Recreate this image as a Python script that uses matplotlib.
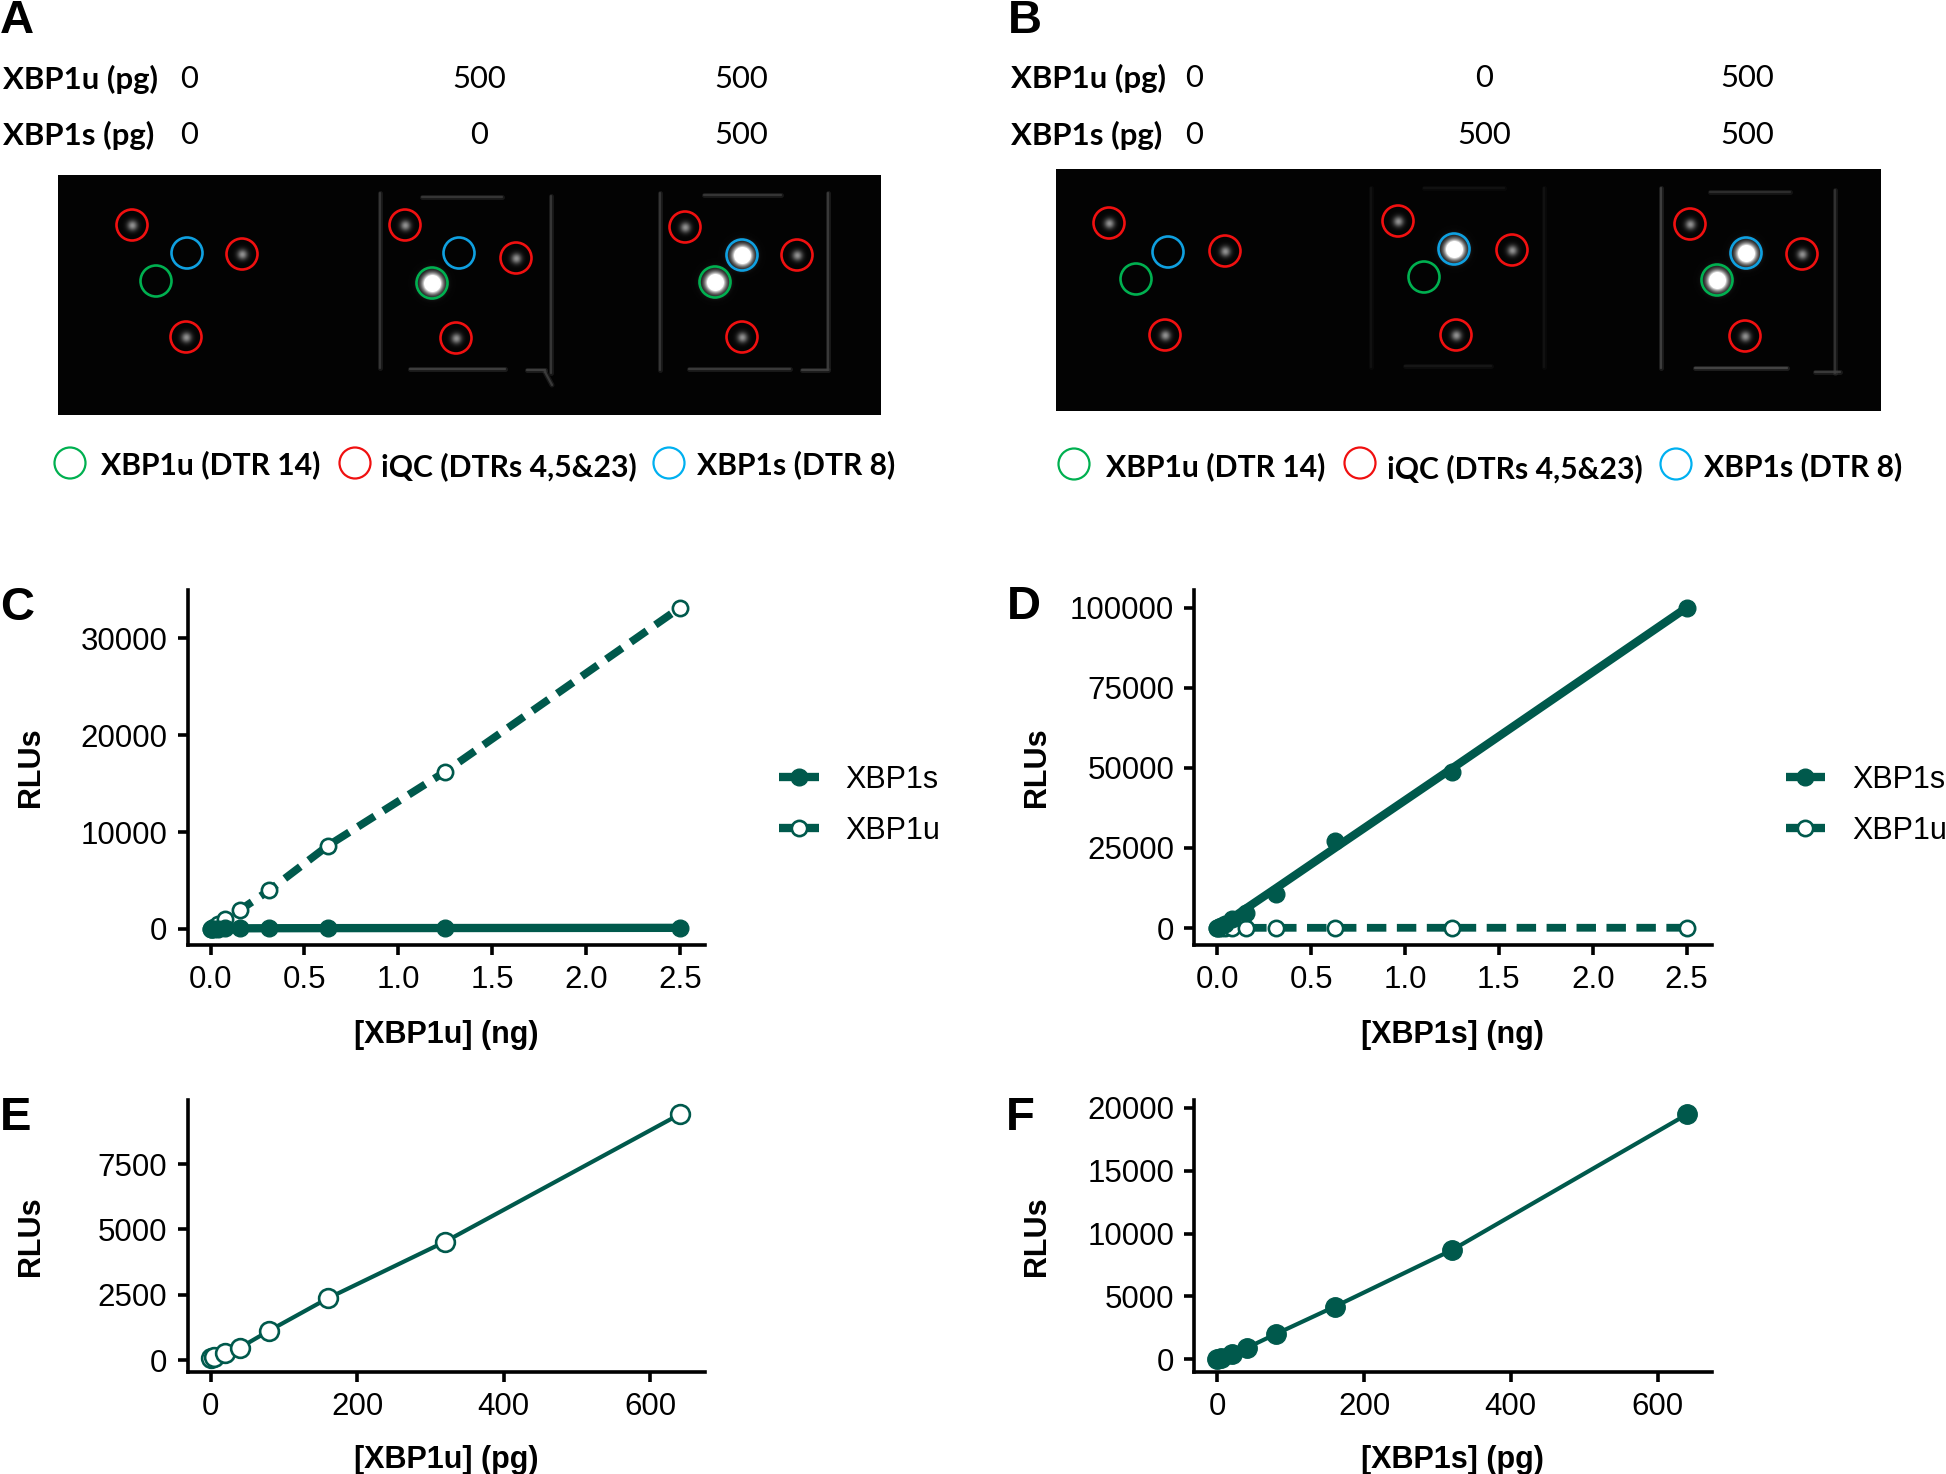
import numpy as np
import matplotlib
matplotlib.use("Agg")
import matplotlib.pyplot as plt
from matplotlib.patches import Circle
from matplotlib.lines import Line2D

plt.rcParams['font.family'] = ['Liberation Sans', 'DejaVu Sans']

W, H = 1946, 1474
TEAL = '#00594C'
GREEN, RED, BLUE = '#00B050', '#F01010', '#0FA0E0'
SOFT_BLUE = '#00B0F0'

# ------------------------------
# data
# ------------------------------
ng = [0, 0.01, 0.02, 0.039, 0.078, 0.156, 0.3125, 0.625, 1.25, 2.5]
pg = [0, 5, 20, 40, 80, 160, 320, 640]

c_xbp1s = [20, 30, 40, 50, 60, 70, 80, 90, 100, 120]
c_xbp1u = [0, 120, 250, 500, 1030, 1960, 3990, 8600, 16240, 33160]
d_xbp1s = [50, 350, 700, 1400, 2800, 4800, 10600, 27260, 48600, 100000]
d_xbp1s_line = [50, 400, 800, 1560, 3100, 6200, 12400, 24900, 49800, 100000]
d_xbp1u = [0, 10, 20, 30, 40, 50, 60, 60, 70, 80]
e_xbp1u = [64, 100, 280, 472, 1122, 2360, 4528, 9400]
f_xbp1s = [10, 80, 420, 900, 2013, 4185, 8690, 19470]

# gel spots as (x, y) on the page, one list per lane
a_iqc = [[(132, 225), (242, 254), (186, 337)],
         [(405, 225), (516, 258), (456, 338)],
         [(685, 227), (797, 255), (742, 337)]]
a_xbp1s = [(187, 253), (459, 253), (742, 255)]
a_xbp1u = [(156, 281), (432, 283), (715, 282)]
a_bright = [(432, 283), (715, 282), (742, 255)]

b_iqc = [[(1109, 223), (1225, 251), (1165, 335)],
         [(1398, 221), (1512, 250), (1456, 335)],
         [(1690, 224), (1802, 254), (1745, 336)]]
b_xbp1s = [(1168, 252), (1454, 249), (1746, 253)]
b_xbp1u = [(1136, 279), (1424, 277), (1717, 280)]
b_bright = [(1454, 249), (1746, 253), (1717, 280)]

# faint edges of the cartridge: x0, y0, x1, y1, grey level
a_frames = [(380, 193, 380, 368, .24), (422, 197, 502, 197, .24), (551, 196, 551, 373, .24),
            (410, 369, 505, 369, .28), (527, 370, 545, 370, .28), (545, 372, 552, 385, .26),
            (660, 193, 660, 370, .24), (704, 195, 781, 195, .24), (828, 193, 828, 368, .26),
            (689, 369, 790, 369, .26), (802, 370, 828, 370, .28)]
b_frames = [(1371, 188, 1371, 367, .08), (1544, 188, 1544, 367, .08), (1424, 188, 1504, 188, .08),
            (1405, 366, 1491, 366, .1),
            (1661, 188, 1661, 368, .28), (1835, 190, 1835, 373, .22), (1710, 192, 1790, 192, .2),
            (1695, 368, 1787, 368, .3), (1815, 372, 1840, 372, .26)]

fig = plt.figure(figsize=(W / 100, H / 100), dpi=100)

# page axes in pixels, used for the two gels and all loose text
page = fig.add_axes([0, 0, 1, 1])
page.set_axis_off()


def draw_gel(box, iqc, xbp1s, xbp1u, bright, frames):
    x0, x1, y0, y1 = box
    xx, yy = np.meshgrid(np.arange(x0, x1), np.arange(y0, y1))
    img = np.zeros(xx.shape) + 0.015
    for lane in iqc:
        for sx, sy in lane:
            img += 0.55 * np.exp(-((xx - sx) ** 2 + (yy - sy) ** 2) / (2 * 3.6 ** 2))
    for sx, sy in bright:
        img += 2.4 * np.exp(-((xx - sx) ** 2 + (yy - sy) ** 2) / (2 * 6.0 ** 2))
    page.imshow(np.clip(img, 0, 1), cmap='gray', vmin=0, vmax=1, aspect='auto',
                extent=(x0, x1, y1, y0), interpolation='bilinear', zorder=1)
    for fx0, fy0, fx1, fy1, g in frames:
        page.plot([fx0, fx1], [fy0, fy1], color=str(g), lw=3.6, alpha=.35, solid_capstyle='round', zorder=2)
        page.plot([fx0, fx1], [fy0, fy1], color=str(g), lw=1.6, alpha=.8, solid_capstyle='round', zorder=2)
    for lane in iqc:
        for pos in lane:
            page.add_patch(Circle(pos, 15.5, fill=False, ec=RED, lw=1.9, zorder=3))
    for pos in xbp1s:
        page.add_patch(Circle(pos, 15.5, fill=False, ec=BLUE, lw=1.9, zorder=3))
    for pos in xbp1u:
        page.add_patch(Circle(pos, 15.5, fill=False, ec=GREEN, lw=1.9, zorder=3))


draw_gel((58, 881, 175, 415), a_iqc, a_xbp1s, a_xbp1u, a_bright, a_frames)
draw_gel((1056, 1881, 169, 411), b_iqc, b_xbp1s, b_xbp1u, b_bright, b_frames)

page.set_xlim(0, W)
page.set_ylim(H, 0)


def page_text(x, y, s, **kw):
    kw.setdefault('family', ['Lato', 'DejaVu Sans'])
    kw.setdefault('fontsize', 22.4)
    kw.setdefault('va', 'center')
    page.text(x, y, s, zorder=5, **kw)


# headers above the gels
for lx, xs, row1, row2, y1, y2 in [(3, (189, 479, 741), ('0', '500', '500'), ('0', '0', '500'), 79, 135),
                                   (1011, (1194, 1484, 1747), ('0', '0', '500'), ('0', '500', '500'), 78, 135)]:
    page_text(lx, y1, 'XBP1u (pg)', fontweight='bold')
    page_text(lx, y2, 'XBP1s (pg)', fontweight='bold')
    for x, s1, s2 in zip(xs, row1, row2):
        page_text(x, y1, s1, ha='center')
        page_text(x, y2, s2, ha='center')

# circle keys under the gels
for circles, texts in [([(70, 463, GREEN), (355, 463, RED), (669, 463, SOFT_BLUE)],
                        [(101, 465, 'XBP1u (DTR 14)'), (381, 467, 'iQC (DTRs 4,5&23)'), (697, 465, 'XBP1s (DTR 8)')]),
                       ([(1074, 464, GREEN), (1360, 463, RED), (1676, 464, SOFT_BLUE)],
                        [(1106, 467, 'XBP1u (DTR 14)'), (1387, 469, 'iQC (DTRs 4,5&23)'), (1704, 467, 'XBP1s (DTR 8)')])]:
    for cx, cy, col in circles:
        page.add_patch(Circle((cx, cy), 15.5, fill=False, ec=col, lw=1.6, zorder=3))
    for tx, ty, s in texts:
        page_text(tx, ty, s, fontweight='bold', fontsize=21.7)

# panel letters
for x, y, s in [(0, 33, 'A'), (1008, 33, 'B'), (0, 620, 'C'), (1007, 619, 'D'), (0, 1130, 'E'), (1006, 1130, 'F')]:
    page.text(x, y, s, fontsize=34, fontweight='bold', va='baseline', ha='left', zorder=5)


def make_axes(box, xpx, xval, ypx, yval):
    """box = left, right, top, bottom in pixels; xpx/ypx are the pixels of two known ticks."""
    left, right, top, bottom = box
    ax = fig.add_axes([left / W, 1 - bottom / H, (right - left) / W, (bottom - top) / H])
    ax.patch.set_alpha(0)
    dx = (xval[1] - xval[0]) / (xpx[1] - xpx[0])
    dy = (yval[1] - yval[0]) / (ypx[1] - ypx[0])
    ax.set_xlim(xval[0] + (left - xpx[0]) * dx, xval[0] + (right - xpx[0]) * dx)
    ax.set_ylim(yval[0] + (bottom - ypx[0]) * dy, yval[0] + (top - ypx[0]) * dy)
    ax.spines[['top', 'right']].set_visible(False)
    ax.spines[['left', 'bottom']].set_linewidth(2.6)
    ax.tick_params(length=7.5, width=2.6, labelsize=22.5, pad=7)
    return ax


def ng_lines(ax, s, u, s_line=None):
    ax.plot(ng, u, color=TEAL, lw=5.6, ls=(0, (2.5, 1.35)), dash_capstyle='butt', zorder=3)
    ax.plot(ng, u, ls='none', marker='o', ms=11, mfc='white', mec=TEAL, mew=1.9, clip_on=False, zorder=4)
    ax.plot(ng, s if s_line is None else s_line, color=TEAL, lw=6, solid_capstyle='butt', zorder=5)
    ax.plot(ng, s, ls='none', marker='o', ms=12, mfc=TEAL, mec=TEAL, clip_on=False, zorder=5)
    ax.set_xticks([0, 0.5, 1.0, 1.5, 2.0, 2.5])
    ax.set_xticklabels(['0.0', '0.5', '1.0', '1.5', '2.0', '2.5'])


def ng_legend(ax, x):
    handles = [Line2D([], [], color=TEAL, lw=6, marker='o', ms=12, mfc=TEAL, mec=TEAL, solid_capstyle='butt'),
               Line2D([], [], color=TEAL, lw=6, ls=(0, (2.2, 0.55)), dash_capstyle='butt',
                      marker='o', ms=11, mfc='white', mec=TEAL, mew=1.9)]
    ax.legend(handles, ['XBP1s', 'XBP1u'], loc='center left', frameon=False, fontsize=22,
              bbox_to_anchor=(x / W, 1 - 805.5 / H), bbox_transform=fig.transFigure,
              handlelength=1.3, handletextpad=0.88, labelspacing=0.68, borderpad=0, borderaxespad=0)


def labels(xc, yc, ys_x, ys_y, s):
    page.text(xc, yc, s, fontsize=22, fontweight='bold', ha='center', va='center', zorder=5)
    page.text(ys_x, ys_y, 'RLUs', fontsize=22, fontweight='bold', rotation=90, ha='center', va='center', zorder=5)


# C
ax_c = make_axes((187.5, 705, 590, 945), (210.6, 680), (0, 2.5), (929, 638.3), (0, 30000))
ng_lines(ax_c, c_xbp1s, c_xbp1u)
ax_c.set_yticks([0, 10000, 20000, 30000])
ng_legend(ax_c, 779)
labels(446, 1034.5, 31, 767, '[XBP1u] (ng)')

# D
ax_d = make_axes((1194.3, 1712, 590, 945), (1217.2, 1686.6), (0, 2.5), (928, 607.7), (0, 100000))
ng_lines(ax_d, d_xbp1s, d_xbp1u, d_xbp1s_line)
ax_d.set_yticks([0, 25000, 50000, 75000, 100000])
ng_legend(ax_d, 1785.5)
labels(1452.5, 1034.5, 1037, 767, '[XBP1s] (ng)')

# E
ax_e = make_axes((187.5, 705, 1100, 1371.5), (210.6, 650.3), (0, 600), (1360, 1164), (0, 7500))
ax_e.plot(pg, e_xbp1u, color=TEAL, lw=3, marker='o', ms=13.5, mfc='white', mec=TEAL, mew=1.9, clip_on=False)
ax_e.set_xticks([0, 200, 400, 600])
ax_e.set_yticks([0, 2500, 5000, 7500])
labels(446, 1460, 31, 1236, '[XBP1u] (pg)')

# F
ax_f = make_axes((1194.3, 1712, 1100, 1371.5), (1217.2, 1657.6), (0, 600), (1359.3, 1107.7), (0, 20000))
ax_f.plot(pg, f_xbp1s, color=TEAL, lw=3, marker='o', ms=14, mfc=TEAL, mec=TEAL, clip_on=False)
ax_f.set_xticks([0, 200, 400, 600])
ax_f.set_yticks([0, 5000, 10000, 15000, 20000])
labels(1452.5, 1460, 1037, 1236, '[XBP1s] (pg)')

fig.savefig('out.png', dpi=100)
